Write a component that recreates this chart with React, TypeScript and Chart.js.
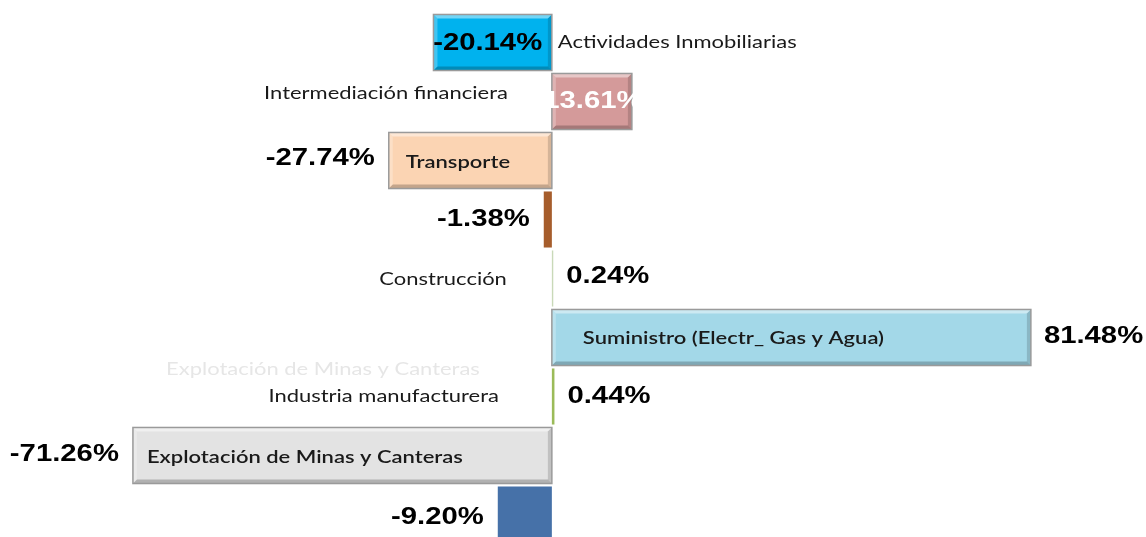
import React, { useEffect, useRef } from "react";
import { Chart, registerables } from "chart.js";

Chart.register(...registerables);

// ---- data ----
const categories = [
  "Actividades Inmobiliarias",
  "Intermediación financiera",
  "Transporte",
  "",
  "Construcción",
  "Suministro (Electr_ Gas y Agua)",
  "Industria manufacturera",
  "Explotación de Minas y Canteras",
  "",
];
const values = [-20.14, 13.61, -27.74, -1.38, 0.24, 81.48, 0.44, -71.26, -9.2];
const valueLabels = ["-20.14%", "13.61%", "-27.74%", "-1.38%", "0.24%", "81.48%", "0.44%", "-71.26%", "-9.20%"];
const ghostLabel = "Explotación de Minas y Canteras";

// ---- styles ----
const barColors = ["#00B2EE", "#D49A9A", "#FBD4B3", "#A65D2C", "#C9D9B8", "#A3D8E8", "#9BBB59", "#E3E3E3", "#4671A8"];
const bevel = [true, true, true, false, false, true, false, true, false];
// value label placement: in = centred in bar, before = left of bar, after = right of bar
const valuePos = ["in", "in", "before", "before", "after", "after", "after", "before", "before"];
const valueColor = ["#000", "#fff", "#000", "#000", "#000", "#000", "#000", "#000", "#000"];
const valueDx = [-5, 1, 0, 0, 0, 0, 0, 0, 0];
const valueDy = [1, 0, -2, 0, -2, -1, 0, -1, 3];
// category label placement
const catPos = ["after", "left", "in", "none", "left", "in", "left", "in", "none"];
const catDx = [6, 44, 17, 0, 45, 31, 53, 14, 0];
const catDy = [0, -8, 2, 0, 1, 1, 0, 2, 0];

const VALUE_FONT = "bold 24px 'Liberation Sans', Arial, sans-serif";
const CAT_FONT = "18px Lato, 'Open Sans', sans-serif";
const CAT_FONT_IN = "600 18px Lato, 'Open Sans', sans-serif";
const SX = 1.22;
const SX_CAT = 1.22;

function stretchText(ctx: CanvasRenderingContext2D, text: string, x: number, y: number, align: CanvasTextAlign, font: string, color: string, sx: number) {
  ctx.save();
  ctx.translate(x, y);
  ctx.scale(sx, 1);
  ctx.font = font;
  ctx.fillStyle = color;
  ctx.textAlign = align;
  ctx.textBaseline = "middle";
  ctx.fillText(text, 0, 0);
  ctx.restore();
}

const labelPlugin = {
  id: "labelPlugin",
  afterDatasetsDraw(chart: any) {
    const ctx: CanvasRenderingContext2D = chart.ctx;
    const meta = chart.getDatasetMeta(0);
    meta.data.forEach((bar: any, i: number) => {
      const l = Math.min(bar.x, bar.base);
      const r = Math.max(bar.x, bar.base);
      const h = bar.height;
      const t = bar.y - h / 2;
      const b = bar.y + h / 2;
      if (bevel[i]) {
        const w = 4;
        ctx.save();
        ctx.fillStyle = "rgba(255,255,255,0.45)";
        ctx.beginPath();
        ctx.moveTo(l, t); ctx.lineTo(r, t); ctx.lineTo(r - w, t + w); ctx.lineTo(l + w, t + w); ctx.closePath(); ctx.fill();
        ctx.fillStyle = "rgba(255,255,255,0.25)";
        ctx.beginPath();
        ctx.moveTo(l, t); ctx.lineTo(l + w, t + w); ctx.lineTo(l + w, b - w); ctx.lineTo(l, b); ctx.closePath(); ctx.fill();
        ctx.fillStyle = "rgba(0,0,0,0.22)";
        ctx.beginPath();
        ctx.moveTo(l, b); ctx.lineTo(l + w, b - w); ctx.lineTo(r - w, b - w); ctx.lineTo(r, b); ctx.closePath(); ctx.fill();
        ctx.fillStyle = "rgba(0,0,0,0.15)";
        ctx.beginPath();
        ctx.moveTo(r, t); ctx.lineTo(r, b); ctx.lineTo(r - w, b - w); ctx.lineTo(r - w, t + w); ctx.closePath(); ctx.fill();
        ctx.strokeStyle = "#9a9a9a";
        ctx.lineWidth = 1.5;
        ctx.strokeRect(l, t, r - l, b - t);
        ctx.restore();
      }
      // value label
      const vy = bar.y + valueDy[i];
      if (valuePos[i] === "in") {
        stretchText(ctx, valueLabels[i], (l + r) / 2 + valueDx[i], vy, "center", VALUE_FONT, valueColor[i], SX);
      } else if (valuePos[i] === "before") {
        stretchText(ctx, valueLabels[i], l - 14, vy, "right", VALUE_FONT, valueColor[i], SX);
      } else {
        stretchText(ctx, valueLabels[i], r + 13, vy, "left", VALUE_FONT, valueColor[i], SX);
      }
      // category label
      const cy = bar.y + catDy[i];
      const txt = categories[i];
      if (catPos[i] === "after") {
        stretchText(ctx, txt, r + catDx[i], cy, "left", CAT_FONT, "#1a1a1a", SX_CAT);
      } else if (catPos[i] === "left") {
        stretchText(ctx, txt, bar.base - catDx[i], cy, "right", CAT_FONT, "#1a1a1a", SX_CAT);
      } else if (catPos[i] === "in") {
        stretchText(ctx, txt, l + catDx[i], cy, "left", CAT_FONT_IN, "#1a1a1a", SX_CAT);
      }
    });
    // faint ghost label between Suministro and Industria rows
    const b6 = meta.data[6];
    stretchText(ctx, ghostLabel, b6.base - 72, b6.y - 27, "right", CAT_FONT, "rgba(200,200,200,0.45)", SX_CAT);
  },
};

export default function App() {
  const ref = useRef<HTMLCanvasElement>(null);
  useEffect(() => {
    if (!ref.current) return;
    const chart = new Chart(ref.current, {
      type: "bar",
      data: {
        labels: categories.map((c, i) => c || `row${i}`),
        datasets: [
          {
            data: values,
            backgroundColor: barColors,
            borderWidth: 0,
            barPercentage: 0.95,
            categoryPercentage: 1,
          },
        ],
      },
      options: {
        indexAxis: "y",
        responsive: false,
        animation: false,
        layout: { padding: { left: 11, right: 18, top: 13, bottom: 16 } },
        scales: {
          x: { display: false, min: -92, max: 98 },
          y: { display: false },
        },
        plugins: { legend: { display: false }, tooltip: { enabled: false } },
      },
      plugins: [labelPlugin],
    });
    return () => chart.destroy();
  }, []);
  return (
    <div style={{ position: "fixed", left: 0, top: 0, width: 1146, height: 537, overflow: "hidden", background: "#fff" }}>
      <canvas ref={ref} width={1146} height={560} style={{ display: "block" }} />
    </div>
  );
}
